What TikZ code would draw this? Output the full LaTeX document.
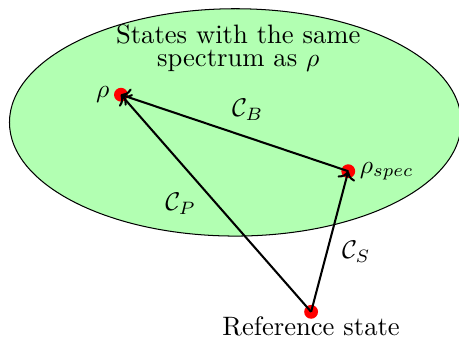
\documentclass[tikz,border=0pt]{standalone}
\usepackage{amsmath,amssymb}
\usetikzlibrary{arrows.meta,calc}
\usepackage{xcolor}
\begin{document}
\begin{tikzpicture}[scale=1, >=To, every node/.style={font=\fontsize{10.4}{12.6}\selectfont}]
\useasboundingbox (0,0) rectangle (6.3,4.68);
% set of isospectral states
\draw[fill=green!30] (3.23,3.0) ellipse (3.1 and 1.56);
\node[align=center] (title) at (3.27,4.02) {States with the same\\[-3.8pt] spectrum as $\rho$};
% states
\coordinate (rho) at (1.66,3.38); \coordinate (spec) at (4.78,2.33);
\coordinate (ref) at (4.27,0.40);
\foreach \p in {rho,spec,ref}
  {\fill[red] (\p) circle (0.095);}
\node[left=1pt] (lrho) at (rho) {$\rho$};
\node[right=1pt] (lspec) at (spec) {$\rho_{spec}$};
\node[below=-1.5pt] (lref) at (ref) {Reference state};
% paths
\draw[thick,->] (spec) -- (rho); % isospectral
\draw[thick,->] (ref) -- (rho);
\draw[thick,->] (ref) -- (spec);
\node (cb) at (3.40,3.17) {$\mathcal{C}_B$};
\node (cp) at (2.48,1.88) {$\mathcal{C}_P$};
\node (cs) at (4.89,1.22) {$\mathcal{C}_S$};
\end{tikzpicture}
\end{document}
